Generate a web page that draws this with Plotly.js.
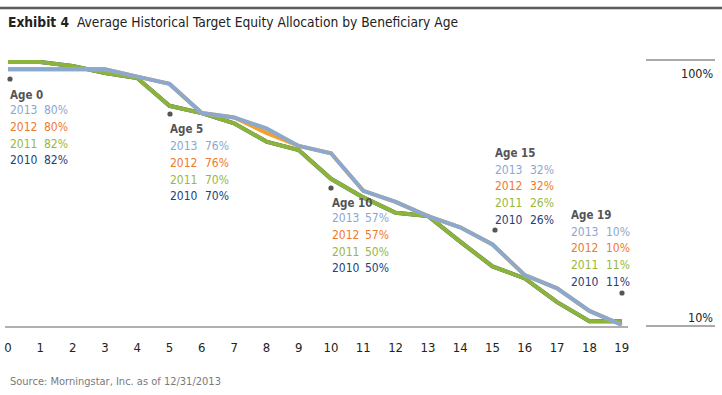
<!DOCTYPE html>
<html>
<head>
<meta charset="utf-8">
<script src="https://cdn.plot.ly/plotly-3.0.1.min.js"></script>
<style>
html,body{margin:0;padding:0;background:#fff;}
#chart{width:722px;height:395px;}
</style>
</head>
<body>
<div id="chart"></div>
<script>
// ---------- DATA ----------
const ages = [0,1,2,3,4,5,6,7,8,9,10,11,12,13,14,15,16,17,18,19];
const years = ["2013","2012","2011","2010"];
const alloc2013 = [80,80,80,80,78,76,68,66.8,63.8,59,57,46.7,43.7,39.8,36.7,32,23.6,20,13.8,10];
const alloc2012 = [80,80,80,80,78,76,68,66.8,62.6,59,57,46.7,43.7,39.8,36.7,32,23.6,20,13.8,10];
const alloc2011 = [82,82,80.9,79,77.6,70,68,65.2,60.2,57.9,50,44.9,40.7,39.8,32.8,26,22.7,16.2,11,11];
const alloc2010 = [82,82,80.9,79,77.6,70,68,65.2,60.2,57.9,50,44.9,40.7,39.8,32.8,26,22.7,16.2,11,11];
const labelAges = [0,5,10,15,19];
const tickLabels = ages.map(String);
const rangeLabels = ["100%","10%"];
const titleBold = "Exhibit 4";
const titleText = "Average Historical Target Equity Allocation by Beneficiary Age";
const sourceText = "Source: Morningstar, Inc. as of 12/31/2013";

// ---------- STYLE ----------
const FONT = "'Liberation Sans Narrow', 'DejaVu Sans Condensed', 'Arial Narrow', sans-serif";
const lineColors = {"2013":"#8ba8cf","2012":"#f5a024","2011":"#8db43a","2010":"#22427a"};
const textColors = {"2013":"#8ba8cf","2012":"#ee7a2c","2011":"#98b83c","2010":"#22427a"};
const seriesByYear = {"2013":alloc2013,"2012":alloc2012,"2011":alloc2011,"2010":alloc2010};

// plot area geometry (pixels)
const L = 5, R = 628, T = 40, B = 326, W = 722, H = 395;
const px2paperX = px => (px - L) / (R - L);
const px2paperY = py => (B - py) / (B - T);

// traces: draw 2010, 2011, 2012, 2013 (2013 on top)
const drawOrder = ["2010","2011","2012","2013"];
const traces = drawOrder.map(y => ({
  x: ages, y: seriesByYear[y], type: "scatter", mode: "lines", name: y,
  line: {color: lineColors[y], width: 4}, hoverinfo: "skip", showlegend: false
}));

// label block positions (pixels): dot, header, year column, pct column, first row y
const blocks = [
  {dot:[10,79],  hx:8,   hy:95,  yx:8,   px:42,  ry:110},
  {dot:[170,114],hx:168, hy:129, yx:168, px:203, ry:146},
  {dot:[331,188],hx:330, hy:203, yx:330, px:363, ry:218},
  {dot:[495,230],hx:493, hy:153, yx:493, px:528, ry:169.5},
  {dot:[622,293],hx:569, hy:215, yx:569, px:604, ry:231.5}
];
const rowStep = 16.8;
const LBL = 12;

const annotations = [];
const shapes = [];
labelAges.forEach((age, i) => {
  const b = blocks[i];
  shapes.push({type:"circle", xref:"paper", yref:"paper", xsizemode:"pixel", ysizemode:"pixel",
    xanchor:px2paperX(b.dot[0]), yanchor:px2paperY(b.dot[1]), x0:-2.6, x1:2.6, y0:-2.6, y1:2.6,
    fillcolor:"#555", line:{width:0}});
  annotations.push({xref:"paper", yref:"paper", x:px2paperX(b.hx), y:px2paperY(b.hy),
    xanchor:"left", yanchor:"middle", showarrow:false, text:"<b>Age " + age + "</b>",
    font:{family:FONT, size:11.5, color:"#555"}});
  years.forEach((yr, j) => {
    const v = Math.round(seriesByYear[yr][ages.indexOf(age)]);
    const yy = px2paperY(b.ry + j*rowStep);
    annotations.push({xref:"paper", yref:"paper", x:px2paperX(b.yx), y:yy, xanchor:"left", yanchor:"middle",
      showarrow:false, text:yr, font:{family:FONT, size:LBL, color:textColors[yr]}});
    annotations.push({xref:"paper", yref:"paper", x:px2paperX(b.px), y:yy, xanchor:"left", yanchor:"middle",
      showarrow:false, text:v + "%", font:{family:FONT, size:LBL, color:textColors[yr]}});
  });
});

// right-hand range markers
shapes.push({type:"line", xref:"paper", yref:"paper", x0:px2paperX(646), x1:px2paperX(715),
  y0:px2paperY(60), y1:px2paperY(60), line:{color:"#aaa", width:2}});
shapes.push({type:"line", xref:"paper", yref:"paper", x0:px2paperX(646), x1:px2paperX(715),
  y0:px2paperY(326), y1:px2paperY(326), line:{color:"#aaa", width:2}});
annotations.push({xref:"paper", yref:"paper", x:px2paperX(715), y:px2paperY(73), xanchor:"right", yanchor:"middle",
  showarrow:false, text:rangeLabels[0], font:{family:FONT, size:12.5, color:"#222"}});
annotations.push({xref:"paper", yref:"paper", x:px2paperX(715), y:px2paperY(317), xanchor:"right", yanchor:"middle",
  showarrow:false, text:rangeLabels[1], font:{family:FONT, size:12.5, color:"#222"}});

// top rule
shapes.push({type:"line", xref:"paper", yref:"paper", x0:px2paperX(0), x1:px2paperX(722),
  y0:px2paperY(8), y1:px2paperY(8), line:{color:"#5a5a5a", width:2.5}});

// source
annotations.push({xref:"paper", yref:"paper", x:px2paperX(8), y:px2paperY(381), xanchor:"left", yanchor:"middle",
  showarrow:false, text:sourceText, font:{family:FONT, size:11, color:"#7a7a7a"}});

const layout = {
  width: W, height: H,
  margin: {l:L, r:W-R, t:T, b:H-B, pad:0},
  paper_bgcolor: "#fff", plot_bgcolor: "#fff",
  title: {text: "<b>" + titleBold + "</b>\u00a0\u00a0" + titleText, xref:"container", yref:"container",
    x: 8/W, xanchor:"left", y: 1 - 22/H, yanchor:"middle",
    font:{family:FONT, size:13.7, color:"#222"}},
  xaxis: {range:[-(8-L)/32.3, (R-8)/32.3], tickvals: ages, ticktext: tickLabels,
    showgrid:false, zeroline:false, showline:true, linecolor:"#b0b0b0", linewidth:2,
    ticks:"outside", ticklen:8, tickcolor:"rgba(0,0,0,0)",
    tickfont:{family:FONT, size:13, color:"#222"}, fixedrange:true},
  yaxis: {range:[82 - (B-62)/3.65, 82 + (62-T)/3.65], showgrid:false, zeroline:false,
    showticklabels:false, showline:false, ticks:"", fixedrange:true},
  showlegend:false, hovermode:false,
  annotations: annotations, shapes: shapes
};

Plotly.newPlot("chart", traces, layout, {displayModeBar:false, staticPlot:true});
</script>
</body>
</html>
